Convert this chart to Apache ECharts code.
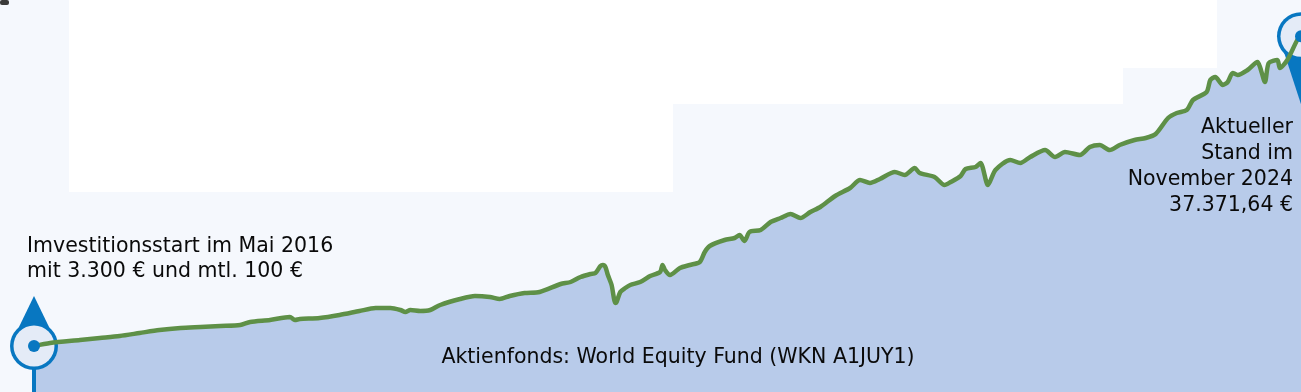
<!DOCTYPE html>
<html>
<head>
<meta charset="utf-8">
<script src="https://cdn.jsdelivr.net/npm/echarts@6/dist/echarts.min.js"></script>
<style>html,body{margin:0;padding:0;background:#f5f8fd;}#c{width:1301px;height:392px;}</style>
</head>
<body>
<div id="c"></div>
<script>
// months since May 2016 (0 = May 2016, 102 = Nov 2024)
const months = [0,1.3,3.7,5.3,6.9,8.5,10.1,11.8,13.4,15.0,16.6,17.4,19.0,20.6,21.0,21.4,23.0,24.6,26.2,27.5,28.7,29.5,29.9,30.3,31.1,31.9,32.7,34.3,35.5,36.7,37.5,38.3,39.5,40.7,42.4,43.2,44.0,44.8,45.2,45.6,45.8,46.0,46.2,46.5,46.8,46.9,47.2,47.6,48.0,48.8,49.6,50.4,50.6,50.8,51.2,52.0,52.8,53.6,54.0,54.4,55.6,56.4,56.8,57.2,57.6,58.5,59.3,60.1,60.9,61.7,62.5,63.3,64.5,65.7,66.5,67.3,68.1,69.3,70.1,70.9,71.3,72.5,73.3,73.8,74.6,75.0,75.8,76.2,76.8,77.4,78.6,79.4,80.2,81.4,82.2,83.0,84.2,85.0,85.8,86.6,87.4,88.6,89.5,90.3,91.3,92.0,92.8,93.3,94.4,94.7,95.1,95.7,96.1,96.5,96.9,97.7,98.5,98.7,99.1,99.4,100.1,100.3,100.9,101.7,102];
// portfolio value in EUR
const values = [3300,3630,3960,4180,4400,4730,5060,5280,5390,5500,5610,5940,6160,6490,6160,6270,6380,6710,7150,7480,7480,7260,7040,7260,7150,7260,7810,8470,8800,8690,8470,8800,9130,9240,10120,10340,10890,11220,11330,12100,12210,11990,11110,10010,8030,8140,9240,9680,10010,10340,11000,11440,12210,11660,11110,11880,12210,12540,13640,14300,14960,15180,15510,14850,15840,16060,16940,17380,17820,17380,18040,18590,19800,20680,21560,21230,21670,22440,22110,22880,22330,21890,21010,21340,22000,22770,22990,23430,21010,22660,23760,23430,24090,24860,24090,24640,24310,25190,25410,24860,25410,25960,26180,26620,28380,28930,29260,30360,31240,32560,32890,32010,32340,33330,33110,33660,34540,33990,32340,34430,34760,33880,34760,36960,37371.64];

const startLabel = ['Imvestitionsstart im Mai 2016', 'mit 3.300 € und mtl. 100 €'];
const endLabel = ['Aktueller', 'Stand im', 'November 2024', '37.371,64 €'];
const fundLabel = 'Aktienfonds: World Equity Fund (WKN A1JUY1)';

const seriesData = months.map((m, i) => [m, values[i]]);
const last = months.length - 1;
const markerData = [[months[0], values[0]], [months[last], values[last]]];

const BLUE = '#0877c1';
const chart = echarts.init(document.getElementById('c'), null, {renderer: 'canvas'});
const FONT = '"DejaVu Sans", sans-serif';

chart.setOption({
  backgroundColor: '#f5f8fd',
  animation: false,
  grid: {left: 34, right: 0, top: 0, bottom: 0},
  xAxis: {type: 'value', min: 0, max: 102, show: false},
  yAxis: {type: 'value', min: -1760, max: 41360, show: false},
  graphic: [
    {type: 'rect', z: -10, shape: {x: 69, y: 0, width: 604, height: 192}, style: {fill: '#ffffff'}},
    {type: 'rect', z: -10, shape: {x: 673, y: 0, width: 450, height: 104}, style: {fill: '#ffffff'}},
    {type: 'rect', z: -10, shape: {x: 1123, y: 0, width: 94, height: 68}, style: {fill: '#ffffff'}},
    {type: 'rect', z: -10, shape: {x: 0, y: 0, width: 9, height: 5, r: 2}, style: {fill: '#3a3a3a'}},
    {type: 'text', z: 100, left: 27, top: 234, style: {text: startLabel.join('\n'), font: '20.5px ' + FONT, fill: '#0a0a0a', lineHeight: 25}},
    {type: 'text', z: 100, style: {x: 1293, y: 115, text: endLabel.join('\n'), font: '20.5px ' + FONT, fill: '#0a0a0a', lineHeight: 26, align: 'right'}},
    {type: 'text', z: 100, style: {x: 678, y: 347, text: fundLabel, font: '20.5px ' + FONT, fill: '#0a0a0a', align: 'center'}}
  ],
  series: [
    {
      type: 'line', data: seriesData, z: 1, symbol: 'none', smooth: 0.25,
      lineStyle: {width: 0, opacity: 0},
      areaStyle: {color: '#b8cbea', opacity: 1, origin: 'start'}
    },
    {
      type: 'custom', z: 2, data: markerData,
      renderItem: function (params, api) {
        const p = api.coord([api.value(0), api.value(1)]);
        const isStart = params.dataIndex === 0;
        const children = [];
        if (isStart) {
          children.push({type: 'polygon', shape: {points: [[0, -50], [-16, -17], [16, -17]]}, style: {fill: BLUE}});
          children.push({type: 'rect', shape: {x: -2, y: 20, width: 4, height: 200}, style: {fill: BLUE}});
        } else {
          children.push({type: 'polygon', shape: {points: [[0, 68], [-17, 16], [17, 16]]}, style: {fill: BLUE}});
        }
        children.push({type: 'circle', shape: {cx: 0, cy: 0, r: 24}, style: {fill: BLUE}});
        children.push({type: 'circle', shape: {cx: 0, cy: 0, r: 20.5}, style: {fill: '#e4ebf7'}});
        return {type: 'group', x: p[0], y: p[1], children: children};
      }
    },
    {
      type: 'line', data: seriesData, z: 3, symbol: 'none', smooth: 0.25,
      lineStyle: {width: 4.5, color: '#5e9047', join: 'round', cap: 'round'}
    },
    {
      type: 'scatter', data: markerData, z: 4, symbol: 'circle', symbolSize: 12,
      itemStyle: {color: BLUE, opacity: 1}
    }
  ]
});
</script>
</body>
</html>
